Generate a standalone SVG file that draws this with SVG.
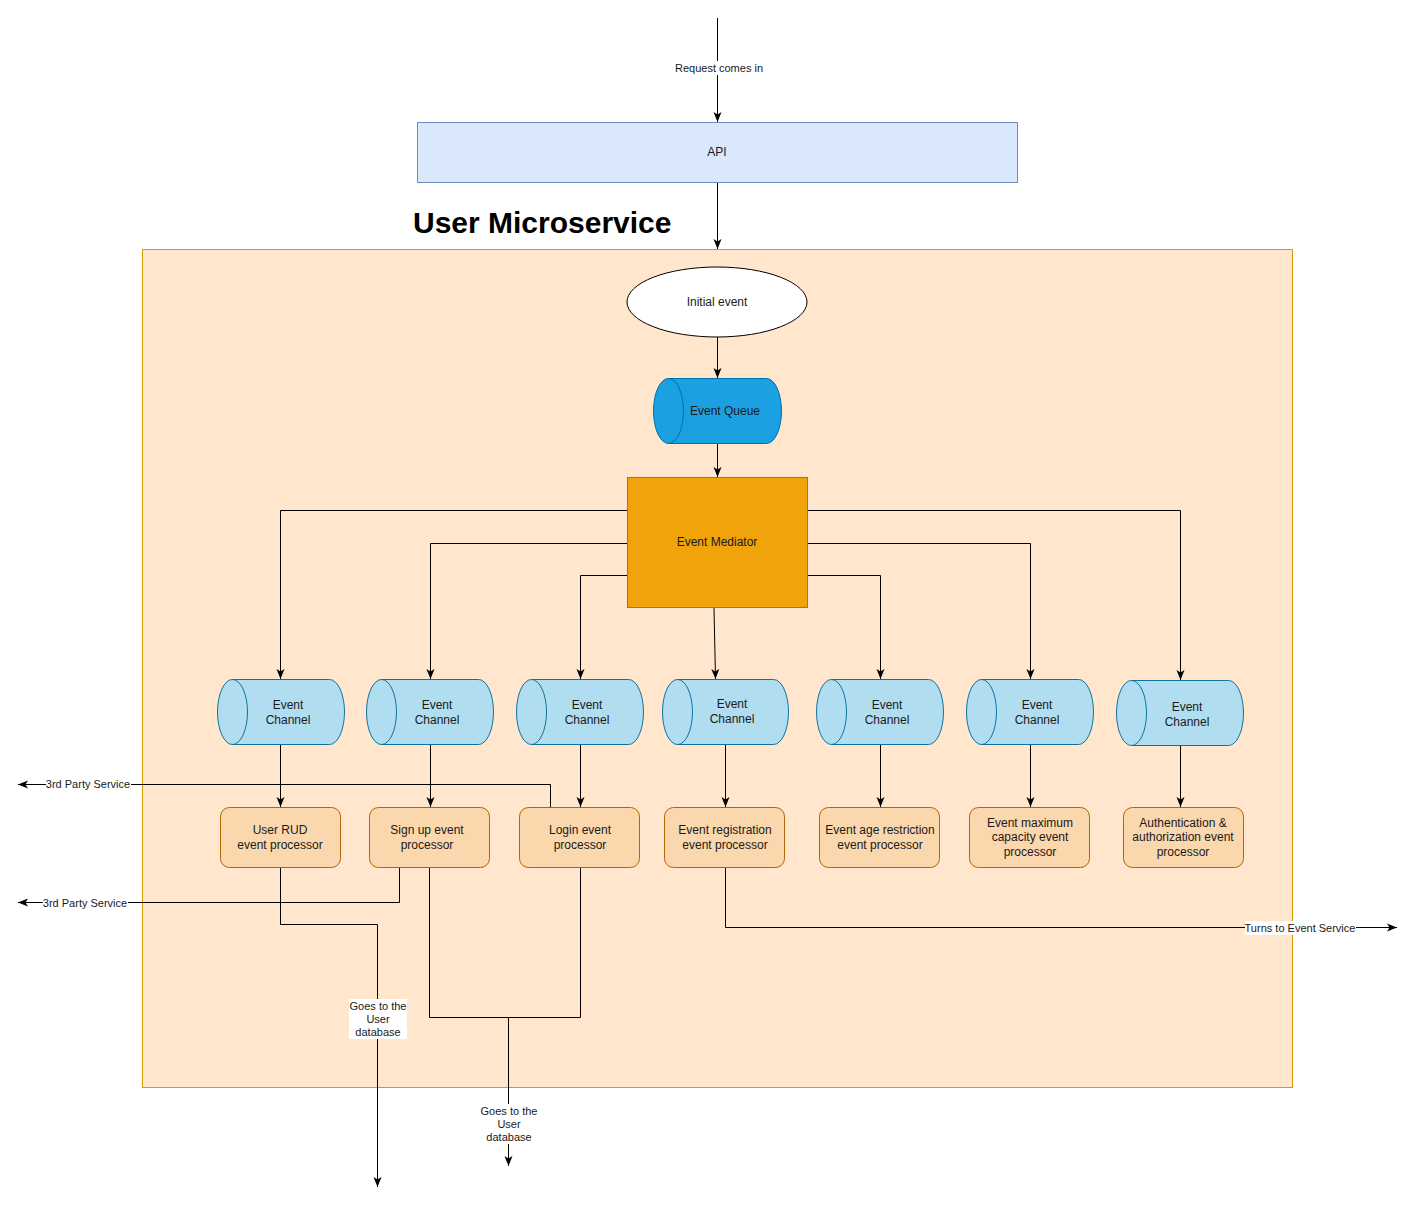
<svg xmlns="http://www.w3.org/2000/svg" width="1417" height="1207" viewBox="0 0 1417 1207">
<style>
text{font-family:"Liberation Sans",Arial,sans-serif;fill:#1a1a1a}
.n{font-size:12px;text-anchor:middle}
.l{font-size:11px;text-anchor:middle}
.e{fill:none;stroke:#000;stroke-width:1;marker-end:url(#ah)}
.p{fill:none;stroke:#000;stroke-width:1}
.ch{fill:#b1ddf0;stroke:#10739e;stroke-width:1}
.cap{fill:none;stroke:#10739e;stroke-width:1}
.pr{fill:#fad7ac;stroke:#b46504;stroke-width:1}
.bg{fill:#fff}
</style>
<defs>
<marker id="ah" markerUnits="userSpaceOnUse" markerWidth="11" markerHeight="11" refX="10" refY="5.5" orient="auto">
<path d="M0,1.5 L10,5.5 L0,9.5 L2.5,5.5 Z" fill="#000"/>
</marker>
</defs>
<rect width="1417" height="1207" fill="#fff"/>
<g id="container">
<rect x="142.5" y="249.5" width="1150" height="838" fill="#ffe6cc" stroke="#d79b00"/>
<text x="413" y="233" style="font-size:30px;font-weight:bold;fill:#000">User Microservice</text>
</g>
<g id="api">
<rect x="417.5" y="122.5" width="600" height="60" fill="#dae8fc" stroke="#6c8ebf"/>
<text class="n" x="717" y="156">API</text>
</g>
<g id="initial">
<ellipse cx="717" cy="302" rx="90" ry="35" fill="#fff" stroke="#000"/>
<text class="n" x="717" y="306">Initial event</text>
</g>
<g id="queue">
<path d="M668.5,378.5 L766.5,378.5 A15,32.5 0 0 1 766.5,443.5 L668.5,443.5 A15,32.5 0 0 1 668.5,378.5 Z" fill="#1ba1e2" stroke="#006eaf"/>
<path d="M668.5,378.5 A15,32.5 0 0 1 668.5,443.5" fill="none" stroke="#006eaf"/>
<text class="n" x="725" y="415">Event Queue</text>
</g>
<g id="mediator">
<rect x="627.5" y="477.5" width="180" height="130" fill="#f0a30a" stroke="#bd7000"/>
<text class="n" x="717" y="546">Event Mediator</text>
</g>
<g id="channel1">
<path class="ch" d="M232.5,679.5 L329.5,679.5 A15,32.5 0 0 1 329.5,744.5 L232.5,744.5 A15,32.5 0 0 1 232.5,679.5 Z"/>
<path class="cap" d="M232.5,679.5 A15,32.5 0 0 1 232.5,744.5"/>
<text class="n" x="288" y="709">Event</text><text class="n" x="288" y="724">Channel</text>
</g>
<g id="channel2">
<path class="ch" d="M381.5,679.5 L478.5,679.5 A15,32.5 0 0 1 478.5,744.5 L381.5,744.5 A15,32.5 0 0 1 381.5,679.5 Z"/>
<path class="cap" d="M381.5,679.5 A15,32.5 0 0 1 381.5,744.5"/>
<text class="n" x="437" y="709">Event</text><text class="n" x="437" y="724">Channel</text>
</g>
<g id="channel3">
<path class="ch" d="M531.5,679.5 L628.5,679.5 A15,32.5 0 0 1 628.5,744.5 L531.5,744.5 A15,32.5 0 0 1 531.5,679.5 Z"/>
<path class="cap" d="M531.5,679.5 A15,32.5 0 0 1 531.5,744.5"/>
<text class="n" x="587" y="709">Event</text><text class="n" x="587" y="724">Channel</text>
</g>
<g id="channel4">
<path class="ch" d="M677.5,679.5 L773.5,679.5 A15,32.5 0 0 1 773.5,744.5 L677.5,744.5 A15,32.5 0 0 1 677.5,679.5 Z"/>
<path class="cap" d="M677.5,679.5 A15,32.5 0 0 1 677.5,744.5"/>
<text class="n" x="732" y="708">Event</text><text class="n" x="732" y="723">Channel</text>
</g>
<g id="channel5">
<path class="ch" d="M831.5,679.5 L928.5,679.5 A15,32.5 0 0 1 928.5,744.5 L831.5,744.5 A15,32.5 0 0 1 831.5,679.5 Z"/>
<path class="cap" d="M831.5,679.5 A15,32.5 0 0 1 831.5,744.5"/>
<text class="n" x="887" y="709">Event</text><text class="n" x="887" y="724">Channel</text>
</g>
<g id="channel6">
<path class="ch" d="M981.5,679.5 L1078.5,679.5 A15,32.5 0 0 1 1078.5,744.5 L981.5,744.5 A15,32.5 0 0 1 981.5,679.5 Z"/>
<path class="cap" d="M981.5,679.5 A15,32.5 0 0 1 981.5,744.5"/>
<text class="n" x="1037" y="709">Event</text><text class="n" x="1037" y="724">Channel</text>
</g>
<g id="channel7">
<path class="ch" d="M1131.5,680.5 L1228.5,680.5 A15,32.5 0 0 1 1228.5,745.5 L1131.5,745.5 A15,32.5 0 0 1 1131.5,680.5 Z"/>
<path class="cap" d="M1131.5,680.5 A15,32.5 0 0 1 1131.5,745.5"/>
<text class="n" x="1187" y="711">Event</text><text class="n" x="1187" y="726">Channel</text>
</g>
<g id="proc1">
<rect class="pr" x="220.5" y="807.5" width="120" height="60" rx="9"/>
<text class="n" x="280" y="834">User RUD</text><text class="n" x="280" y="849">event processor</text>
</g>
<g id="proc2">
<rect class="pr" x="369.5" y="807.5" width="120" height="60" rx="9"/>
<text class="n" x="427" y="834">Sign up event</text><text class="n" x="427" y="849">processor</text>
</g>
<g id="proc3">
<rect class="pr" x="519.5" y="807.5" width="120" height="60" rx="9"/>
<text class="n" x="580" y="834">Login event</text><text class="n" x="580" y="849">processor</text>
</g>
<g id="proc4">
<rect class="pr" x="664.5" y="807.5" width="120" height="60" rx="9"/>
<text class="n" x="725" y="834">Event registration</text><text class="n" x="725" y="849">event processor</text>
</g>
<g id="proc5">
<rect class="pr" x="819.5" y="807.5" width="120" height="60" rx="9"/>
<text class="n" x="880" y="834">Event age restriction</text><text class="n" x="880" y="849">event processor</text>
</g>
<g id="proc6">
<rect class="pr" x="969.5" y="807.5" width="120" height="60" rx="9"/>
<text class="n" x="1030" y="827">Event maximum</text><text class="n" x="1030" y="841">capacity event</text><text class="n" x="1030" y="856">processor</text>
</g>
<g id="proc7">
<rect class="pr" x="1123.5" y="807.5" width="120" height="60" rx="9"/>
<text class="n" x="1183" y="827">Authentication &amp;</text><text class="n" x="1183" y="841">authorization event</text><text class="n" x="1183" y="856">processor</text>
</g>
<g id="connectors">
<path class="e" d="M717.5,18 L717.5,122"/>
<path class="e" d="M717.5,183 L717.5,249"/>
<path class="e" d="M717.5,337 L717.5,378"/>
<path class="e" d="M717.5,444 L717.5,477"/>
<path class="e" d="M627,510.5 L280.5,510.5 L280.5,679"/>
<path class="e" d="M627,543.5 L430.5,543.5 L430.5,679"/>
<path class="e" d="M627,575.5 L580.5,575.5 L580.5,679"/>
<path class="e" d="M714,608 L715.5,679"/>
<path class="e" d="M808,575.5 L880.5,575.5 L880.5,679"/>
<path class="e" d="M808,543.5 L1030.5,543.5 L1030.5,679"/>
<path class="e" d="M808,510.5 L1180.5,510.5 L1180.5,680"/>
<path class="e" d="M280.5,745 L280.5,807"/>
<path class="e" d="M430.5,745 L430.5,807"/>
<path class="e" d="M580.5,745 L580.5,807"/>
<path class="e" d="M725.5,745 L725.5,807"/>
<path class="e" d="M880.5,745 L880.5,807"/>
<path class="e" d="M1030.5,745 L1030.5,807"/>
<path class="e" d="M1180.5,746 L1180.5,807"/>
<path class="e" d="M550.5,807 L550.5,784.5 L18,784.5"/>
<path class="e" d="M399.5,868 L399.5,902.5 L18,902.5"/>
<path class="e" d="M280.5,868 L280.5,924.5 L377.5,924.5 L377.5,1187"/>
<path class="e" d="M429.5,868 L429.5,1017.5 L508.5,1017.5 L508.5,1166"/>
<path class="p" d="M580.5,868 L580.5,1017.5 L508.5,1017.5"/>
<path class="e" d="M725.5,868 L725.5,927.5 L1397,927.5"/>
</g>
<g id="labels">
<rect class="bg" x="675" y="61" width="89" height="14"/>
<text class="l" x="719" y="72">Request comes in</text>
<rect class="bg" x="46" y="777" width="85" height="14"/>
<text class="l" x="88" y="788">3rd Party Service</text>
<rect class="bg" x="43" y="896" width="85" height="14"/>
<text class="l" x="85" y="907">3rd Party Service</text>
<rect class="bg" x="349" y="999" width="58" height="40"/>
<text class="l" x="378" y="1010">Goes to the</text><text class="l" x="378" y="1023">User</text><text class="l" x="378" y="1036">database</text>
<rect class="bg" x="480" y="1104" width="58" height="40"/>
<text class="l" x="509" y="1115">Goes to the</text><text class="l" x="509" y="1128">User</text><text class="l" x="509" y="1141">database</text>
<rect class="bg" x="1245" y="921" width="111" height="14"/>
<text class="l" x="1300" y="932">Turns to Event Service</text>
</g>
</svg>
